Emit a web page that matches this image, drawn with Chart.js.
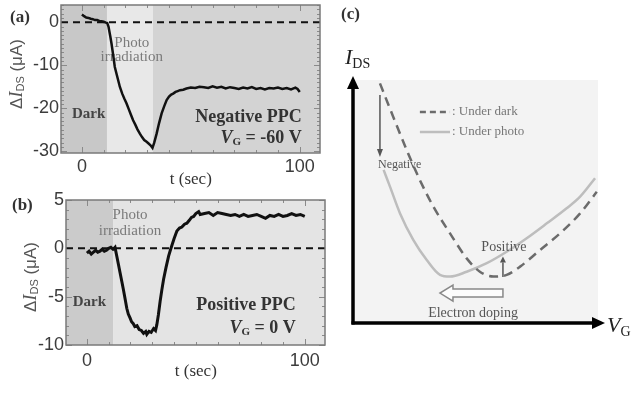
<!DOCTYPE html>
<html>
<head>
<meta charset="utf-8">
<script src="https://cdn.jsdelivr.net/npm/chart.js@4.4.0/dist/chart.umd.min.js"></script>
<style>
  body { margin: 0; background: #fff; width: 636px; height: 406px; position: relative; overflow: hidden; }
  canvas { position: absolute; }
</style>
</head>
<body>
<canvas id="chartA" width="330" height="190" style="left:0;top:0"></canvas>
<canvas id="chartB" width="335" height="216" style="left:0;top:190px"></canvas>
<canvas id="chartC" width="306" height="406" style="left:330px;top:0"></canvas>
<script>
// ---------------- données ----------------
// (a) V_G = -60 V
const timeA = [0, 1, 2, 3, 4, 5, 6, 7, 8, 9, 10, 11, 11.6, 12.2, 13, 13.6, 14.4, 15.1, 16, 17, 17.4, 18.5, 19.5, 20.5,
  21.5, 22.5, 23.5, 24.5, 25.5, 26.6, 27.6, 28.6, 29.7, 30.6, 31.5, 32.4, 33.2, 34.3, 35.4, 36.6, 37.8, 38.9, 40, 41,
  41.9, 43, 44, 45, 46.5, 48, 50, 52, 54, 56, 58, 60, 62, 64, 66, 68, 70, 72, 74, 76, 78, 80, 82, 84, 86, 88, 90, 92,
  94, 96, 98, 99, 100];
const currentA = [1.8, 1.4, 1.1, 1.0, 0.8, 0.7, 0.5, 0.5, 0.3, 0.2, 0.1, -0.1, -0.2, -1.0, -3.2, -5.0, -7.8, -10.4, -12.2,
  -14.2, -15.0, -16.6, -17.8, -18.9, -20.2, -21.5, -22.8, -23.8, -24.9, -25.9, -26.7, -27.4, -27.8, -28.2, -28.6, -29.2,
  -28.0, -25.9, -23.5, -21.2, -19.5, -18.1, -17.3, -16.8, -16.6, -16.2, -16.0, -15.8, -15.7, -15.4, -15.2, -15.3, -15.0,
  -15.1, -15.3, -14.9, -15.2, -15.0, -15.4, -15.1, -15.3, -15.5, -15.2, -15.4, -15.1, -15.5, -15.3, -15.6, -15.3, -15.4,
  -15.2, -15.5, -15.3, -15.6, -15.2, -15.5, -16.2];
// (b) V_G = 0 V
const timeB = [0, 1, 2, 3, 4, 5, 6, 7, 8, 9, 10, 11, 12, 12.9, 13.7, 14.5, 15.2, 16, 16.7, 17.5, 18.3, 19, 19.8, 20.5,
  21.3, 22, 23, 24, 25, 26, 27, 27.5, 28.5, 29.5, 30.6, 31.5, 32.1, 32.8, 33.6, 34.4, 35.2, 36.3, 37.5, 38.3, 39, 40,
  41.3, 42.5, 43.6, 44.8, 45.9, 47, 48, 49, 50, 51.3, 52, 54, 56, 58, 60, 62, 64, 66, 68, 70, 72, 74, 76, 78, 80, 82,
  84, 86, 88, 90, 92, 94, 96, 98, 100];
const currentB = [-0.5, -0.3, -0.6, -0.4, -0.2, -0.4, -0.3, -0.1, -0.3, -0.2, 0.0, 0.1, -0.1, 0.1, -0.8, -1.7, -2.5,
  -3.4, -4.2, -5.2, -6.2, -6.8, -7.2, -7.6, -7.8, -8.1, -8.0, -8.4, -8.5, -8.8, -8.6, -8.9, -8.6, -8.7, -8.3, -8.5, -7.9,
  -6.9, -5.5, -4.3, -3.2, -2.0, -0.8, -0.2, 0.3, 1.0, 1.8, 2.1, 2.2, 2.5, 2.6, 2.9, 3.2, 3.3, 3.6, 3.8, 3.5, 3.6, 3.7,
  3.4, 3.7, 3.6, 3.5, 3.4, 3.5, 3.3, 3.5, 3.3, 3.4, 3.5, 3.3, 3.1, 3.4, 3.3, 3.5, 3.3, 3.4, 3.6, 3.4, 3.5, 3.3];

const ticksA = [0, -10, -20, -30];
const ticksB = [5, 0, -5, -10];
const timeTicks = [0, 100];
const shadeA = [11.5, 32.6];   // fin "Dark", fin irradiation
const shadeB = [12];

// (c) schéma I_DS(V_G), unités arbitraires
const gateDark = [11.0, 16.4, 21.9, 27.3, 32.8, 39.6, 46.4, 51.8, 57.3, 62.7, 68.2, 76.3, 84.5, 92.7, 99.5];
const idsDark = [98.6, 84.9, 71.2, 58.8, 47.9, 36.9, 26.6, 21.1, 19.1, 19.8, 23.2, 30.0, 36.9, 45.1, 54.0];
const gatePhoto = [12.5, 15.1, 19.2, 24.6, 30.1, 35.5, 39.6, 46.4, 54.6, 62.7, 70.9, 79.1, 87.2, 92.7, 98.8];
const idsPhoto = [63.0, 56.1, 45.1, 34.2, 25.9, 19.8, 19.1, 21.1, 24.6, 29.3, 34.9, 41.0, 47.2, 52.0, 59.6];

// ---------------- outils ----------------
const SERIF = '"Liberation Serif", "DejaVu Serif", serif';
const SANS = '"Liberation Sans", Arial, sans-serif';

// texte en plusieurs morceaux (indices, italique)
function richText(ctx, parts, x, y, align) {
  let w = 0;
  parts.forEach(p => { ctx.font = p.font; w += ctx.measureText(p.text).width; });
  let cx = align === 'right' ? x - w : (align === 'center' ? x - w / 2 : x);
  ctx.textAlign = 'left';
  ctx.textBaseline = 'middle';
  parts.forEach(p => {
    ctx.font = p.font;
    ctx.fillStyle = p.color || '#333';
    ctx.fillText(p.text, cx, y + (p.dy || 0));
    cx += ctx.measureText(p.text).width;
  });
}

function arrow(ctx, x0, y0, x1, y1, head, half, color, lw) {
  const ang = Math.atan2(y1 - y0, x1 - x0);
  const bx = x1 - head * Math.cos(ang), by = y1 - head * Math.sin(ang);
  ctx.strokeStyle = color; ctx.fillStyle = color; ctx.lineWidth = lw;
  ctx.beginPath(); ctx.moveTo(x0, y0); ctx.lineTo(bx, by); ctx.stroke();
  ctx.beginPath();
  ctx.moveTo(x1, y1);
  ctx.lineTo(bx + half * Math.sin(ang), by - half * Math.cos(ang));
  ctx.lineTo(bx - half * Math.sin(ang), by + half * Math.cos(ang));
  ctx.closePath(); ctx.fill();
}

function yTitle() {
  return [
    { text: 'Δ', font: '17px ' + SANS, color: '#555' },
    { text: 'I', font: 'italic 18px ' + SERIF, color: '#555' },
    { text: 'DS', font: '11px ' + SANS, color: '#555', dy: 4 },
    { text: ' (μA)', font: '17px ' + SANS, color: '#555' }
  ];
}

// plugin pour les panneaux (a) et (b)
function panelPlugin(cfg) {
  return {
    id: 'panel_' + cfg.letter,
    beforeDatasetsDraw(chart) {
      const { ctx, chartArea: a, scales: { x, y } } = chart;
      ctx.save();
      // zones de fond
      const edges = [x.min, ...cfg.shade, x.max];
      for (let i = 0; i < edges.length - 1; i++) {
        const x0 = x.getPixelForValue(edges[i]);
        const x1 = x.getPixelForValue(edges[i + 1]);
        ctx.fillStyle = cfg.shadeColors[i];
        ctx.fillRect(x0, a.top, x1 - x0, a.bottom - a.top);
      }
      // graduations vers l'intérieur
      ctx.strokeStyle = '#8a8a8a'; ctx.lineWidth = 1;
      ctx.beginPath();
      for (let v = Math.ceil(y.min); v <= y.max; v++) {
        const py = Math.round(y.getPixelForValue(v)) + 0.5;
        const len = cfg.yTicks.includes(v) ? 6 : 3;
        ctx.moveTo(a.left, py); ctx.lineTo(a.left + len, py);
        ctx.moveTo(a.right, py); ctx.lineTo(a.right - len, py);
      }
      for (let v = 0; v <= 100; v += 10) {
        const px = Math.round(x.getPixelForValue(v)) + 0.5;
        const len = timeTicks.includes(v) ? 6 : 3;
        ctx.moveTo(px, a.bottom); ctx.lineTo(px, a.bottom - len);
        ctx.moveTo(px, a.top); ctx.lineTo(px, a.top + len);
      }
      ctx.stroke();
      // ligne zéro en tirets
      const y0 = y.getPixelForValue(0);
      ctx.strokeStyle = '#111'; ctx.lineWidth = 2; ctx.setLineDash([7, 5]);
      ctx.beginPath(); ctx.moveTo(a.left, y0); ctx.lineTo(a.right, y0); ctx.stroke();
      ctx.setLineDash([]);
      // textes dans le graphique
      ctx.textBaseline = 'middle';
      ctx.textAlign = 'left';
      ctx.font = 'bold 15px ' + SERIF; ctx.fillStyle = '#444';
      ctx.fillText('Dark', x.getPixelForValue(cfg.dark[0]), y.getPixelForValue(cfg.dark[1]));
      ctx.textAlign = 'center';
      ctx.font = '15px ' + SERIF; ctx.fillStyle = '#7a7a7a';
      ctx.fillText('Photo', x.getPixelForValue(cfg.photo[0]), y.getPixelForValue(cfg.photo[1]));
      ctx.fillText('irradiation', x.getPixelForValue(cfg.photo[0]), y.getPixelForValue(cfg.photo[2]));
      ctx.restore();
    },
    afterDraw(chart) {
      const { ctx, chartArea: a, scales: { x, y } } = chart;
      ctx.save();
      // cadre
      ctx.strokeStyle = '#7a7a7a'; ctx.lineWidth = 1.5;
      ctx.strokeRect(a.left, a.top, a.right - a.left, a.bottom - a.top);
      // étiquettes des axes
      ctx.font = '18px ' + SANS; ctx.fillStyle = '#3c3c3c';
      ctx.textAlign = 'right'; ctx.textBaseline = 'middle';
      cfg.yTicks.forEach(v => ctx.fillText(String(v), a.left - 2, y.getPixelForValue(v)));
      ctx.textAlign = 'center';
      timeTicks.forEach(v => ctx.fillText(String(v), x.getPixelForValue(v), a.bottom + cfg.xLabelGap));
      ctx.font = '17px ' + SERIF; ctx.fillStyle = '#333';
      ctx.fillText('t (sec)', x.getPixelForValue(50), a.bottom + 27);
      // titre vertical
      ctx.save();
      ctx.translate(cfg.titleX, cfg.titleY);
      ctx.rotate(-Math.PI / 2);
      richText(ctx, yTitle(), 0, 0, 'center');
      ctx.restore();
      // lettre du panneau
      ctx.font = 'bold 17px ' + SERIF; ctx.fillStyle = '#333';
      ctx.textAlign = 'left';
      ctx.fillText(cfg.letter, cfg.letterPos[0], cfg.letterPos[1]);
      // annotations PPC
      richText(ctx, [{ text: cfg.ppc, font: 'bold 18px ' + SERIF, color: '#333' }],
        x.getPixelForValue(cfg.ppcPos[0]), y.getPixelForValue(cfg.ppcPos[1]), 'right');
      richText(ctx, [
        { text: 'V', font: 'italic bold 18px ' + SERIF, color: '#333' },
        { text: 'G', font: 'bold 11px ' + SERIF, color: '#333', dy: 4 },
        { text: ' = ' + cfg.vg, font: 'bold 18px ' + SERIF, color: '#333' }
      ], x.getPixelForValue(cfg.vgPos[0]), y.getPixelForValue(cfg.vgPos[1]), 'right');
      ctx.restore();
    }
  };
}

function timeChart(id, times, values, yMin, yMax, pad, lw, cfg) {
  return new Chart(document.getElementById(id), {
    type: 'line',
    data: {
      datasets: [{
        data: times.map((t, i) => ({ x: t, y: values[i] })),
        borderColor: '#111',
        borderWidth: lw,
        pointRadius: 0,
        tension: 0,
        fill: false
      }]
    },
    options: {
      responsive: false,
      animation: false,
      devicePixelRatio: 1,
      layout: { padding: pad },
      scales: {
        x: { type: 'linear', display: false, min: -9.6, max: 109.3 },
        y: { type: 'linear', display: false, min: yMin, max: yMax }
      },
      plugins: { legend: { display: false }, tooltip: { enabled: false } }
    },
    plugins: [panelPlugin(cfg)]
  });
}

// ---------------- (a) ----------------
timeChart('chartA', timeA, currentA, -30.4, 4, { left: 61, top: 5, right: 10, bottom: 37 }, 2.5, {
  letter: '(a)', letterPos: [10, 18],
  yTicks: ticksA, shade: shadeA, shadeColors: ['#c8c8c8', '#e8e8e8', '#d3d3d3'],
  xLabelGap: 14, titleX: 17, titleY: 74,
  dark: [-4.6, -21.4], photo: [22.9, -4.9, -8.1],
  ppc: 'Negative PPC', ppcPos: [100.9, -22.1],
  vg: '-60 V', vgPos: [100.9, -27.0]
});

// ---------------- (b) ----------------
timeChart('chartB', timeB, currentB, -10, 5, { left: 66, top: 10, right: 10, bottom: 61 }, 3, {
  letter: '(b)', letterPos: [12, 16],
  yTicks: ticksB, shade: shadeB, shadeColors: ['#cbcbcb', '#e4e4e4'],
  xLabelGap: 16, titleX: 31, titleY: 87,
  dark: [-6.5, -5.6], photo: [19.8, 3.4, 1.8],
  ppc: 'Positive PPC', ppcPos: [95.9, -5.9],
  vg: '0 V', vgPos: [95.9, -8.3]
});

// ---------------- (c) ----------------
const schemePlugin = {
  id: 'scheme',
  beforeDatasetsDraw(chart) {
    const { ctx, chartArea: a } = chart;
    ctx.save();
    ctx.fillStyle = '#f3f3f3';
    ctx.fillRect(a.left, a.top, a.right - a.left, a.bottom - a.top);
    ctx.restore();
  },
  afterDraw(chart) {
    const { ctx, chartArea: a, scales: { x, y } } = chart;
    const px = v => x.getPixelForValue(v), py = v => y.getPixelForValue(v);
    ctx.save();
    // axes avec flèches
    arrow(ctx, a.left, a.bottom + 1.5, a.left, a.top - 4, 13, 6, '#000', 3.5);
    arrow(ctx, a.left - 1.5, a.bottom, a.right + 7, a.bottom, 13, 6, '#000', 3.5);
    // légende
    ctx.lineWidth = 2.5;
    ctx.strokeStyle = '#6b6b6b'; ctx.setLineDash([6, 4]);
    ctx.beginPath(); ctx.moveTo(px(27.3), py(86.8)); ctx.lineTo(px(39.6), py(86.8)); ctx.stroke();
    ctx.setLineDash([]);
    ctx.strokeStyle = '#bdbdbd';
    ctx.beginPath(); ctx.moveTo(px(27.3), py(78.6)); ctx.lineTo(px(39.6), py(78.6)); ctx.stroke();
    ctx.font = '13px ' + SERIF; ctx.fillStyle = '#777';
    ctx.textAlign = 'left'; ctx.textBaseline = 'middle';
    ctx.fillText(': Under dark', px(40.4), py(86.8));
    ctx.fillText(': Under photo', px(40.4), py(78.6));
    // flèche "Negative"
    arrow(ctx, px(11), py(93.8), px(11), py(68.3), 8, 3, '#555', 1.5);
    ctx.font = '12px ' + SERIF; ctx.fillStyle = '#555';
    ctx.fillText('Negative', px(10.2), py(65));
    // flèche "Positive"
    arrow(ctx, px(61.2), py(18.9), px(61.2), py(27.4), 6, 3, '#555', 1.5);
    ctx.font = '14px ' + SERIF; ctx.textAlign = 'center';
    ctx.fillText('Positive', px(61.6), py(31.3));
    // flèche creuse "Electron doping"
    const tail = px(61.2), tip = px(35.5), yc = py(12.3), hb = tip + 13;
    ctx.beginPath();
    ctx.moveTo(tail, yc - 4); ctx.lineTo(hb, yc - 4); ctx.lineTo(hb, yc - 8); ctx.lineTo(tip, yc);
    ctx.lineTo(hb, yc + 8); ctx.lineTo(hb, yc + 4); ctx.lineTo(tail, yc + 4); ctx.closePath();
    ctx.fillStyle = '#fcfcfc'; ctx.fill();
    ctx.strokeStyle = '#888'; ctx.lineWidth = 1.5; ctx.stroke();
    ctx.fillStyle = '#555';
    ctx.fillText('Electron doping', px(49), py(4.1));
    // titres des axes
    richText(ctx, [
      { text: 'I', font: 'italic 22px ' + SERIF, color: '#222' },
      { text: 'DS', font: '14px ' + SERIF, color: '#222', dy: 6 }
    ], a.left - 8, a.top - 22, 'left');
    richText(ctx, [
      { text: 'V', font: 'italic 22px ' + SERIF, color: '#222' },
      { text: 'G', font: '14px ' + SERIF, color: '#222', dy: 6 }
    ], a.right + 9, a.bottom + 3, 'left');
    ctx.font = 'bold 17px ' + SERIF; ctx.fillStyle = '#333'; ctx.textAlign = 'left';
    ctx.fillText('(c)', 11, 15);
    ctx.restore();
  }
};

new Chart(document.getElementById('chartC'), {
  type: 'line',
  data: {
    datasets: [{
      data: gateDark.map((v, i) => ({ x: v, y: idsDark[i] })),
      borderColor: '#6b6b6b', borderWidth: 2.5, borderDash: [9, 6],
      pointRadius: 0, cubicInterpolationMode: 'monotone', fill: false
    }, {
      data: gatePhoto.map((v, i) => ({ x: v, y: idsPhoto[i] })),
      borderColor: '#bdbdbd', borderWidth: 2.5,
      pointRadius: 0, cubicInterpolationMode: 'monotone', fill: false
    }]
  },
  options: {
    responsive: false,
    animation: false,
    devicePixelRatio: 1,
    layout: { padding: { left: 23, top: 80, right: 38, bottom: 83 } },
    scales: {
      x: { type: 'linear', display: false, min: 0, max: 100 },
      y: { type: 'linear', display: false, min: 0, max: 100 }
    },
    plugins: { legend: { display: false }, tooltip: { enabled: false } }
  },
  plugins: [schemePlugin]
});
</script>
</body>
</html>
